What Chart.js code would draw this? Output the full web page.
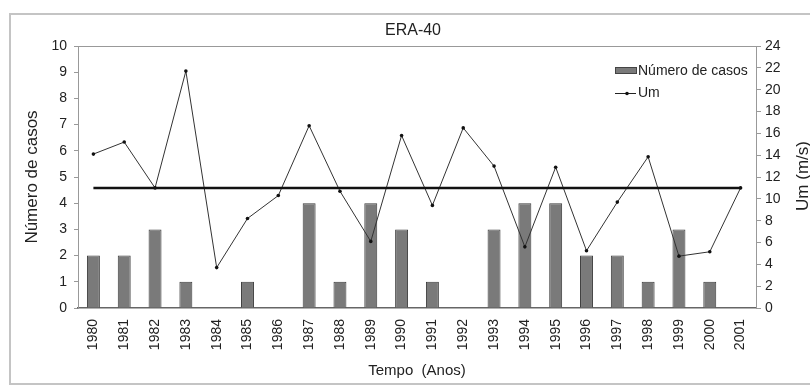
<!DOCTYPE html>
<html>
<head>
<meta charset="utf-8">
<script src="https://cdn.jsdelivr.net/npm/chart.js@4.4.0/dist/chart.umd.min.js"></script>
<style>
  body { margin: 0; background: #fff; }
  #wrap { position: relative; width: 810px; height: 385px; }
  #frame { position: absolute; left: 9px; top: 13px; width: 820px; height: 368px;
           border: 2px solid #c4c4c4; pointer-events: none; }
</style>
</head>
<body>
<div id="wrap">
  <canvas id="eraChart" width="810" height="385"></canvas>
  <div id="frame"></div>
</div>
<script>
const years = ["1980", "1981", "1982", "1983", "1984", "1985", "1986", "1987", "1988", "1989", "1990",
               "1991", "1992", "1993", "1994", "1995", "1996", "1997", "1998", "1999", "2000", "2001"];
const numeroCasos = [2, 2, 3, 1, 0, 1, 0, 4, 1, 4, 3, 1, 0, 3, 4, 4, 2, 2, 1, 3, 1, 0];
const umValues = [14.1, 15.2, 11.0, 21.7, 3.7, 8.2, 10.3, 16.7, 10.7, 6.1, 15.8,
                  9.4, 16.5, 13.0, 5.6, 12.9, 5.25, 9.7, 13.85, 4.75, 5.15, 11.0];
const umMean = 11.0;

const leftTicks = { min: 0, max: 10, step: 1 };
const rightTicks = { min: 0, max: 24, step: 2 };

const FONT = "'Liberation Sans', Arial, sans-serif";

// titles, legend and top border of the plot
const decorations = {
    id: 'decorations',
    afterDraw(chart) {
        const ctx = chart.ctx;
        const area = chart.chartArea;
        ctx.save();

        ctx.strokeStyle = '#999';
        ctx.lineWidth = 1;
        ctx.beginPath();
        ctx.moveTo(area.left, area.top + 0.5);
        ctx.lineTo(area.right, area.top + 0.5);
        ctx.stroke();

        ctx.fillStyle = '#222';
        ctx.textAlign = 'center';
        ctx.textBaseline = 'middle';
        ctx.font = '16px ' + FONT;
        ctx.fillText('ERA-40', 413, 31);

        ctx.font = '15px ' + FONT;
        ctx.fillText('Tempo  (Anos)', 417, 371);

        ctx.font = '17px ' + FONT;
        ctx.save();
        ctx.translate(32, 177);
        ctx.rotate(-Math.PI / 2);
        ctx.fillText('Número de casos', 0, 0);
        ctx.restore();

        ctx.save();
        ctx.translate(803, 176);
        ctx.rotate(-Math.PI / 2);
        ctx.fillText('Um (m/s)', 0, 0);
        ctx.restore();

        // legend
        ctx.fillStyle = '#7a7a7a';
        ctx.fillRect(615, 67, 22, 7);
        ctx.strokeStyle = '#444';
        ctx.strokeRect(615.5, 67.5, 21, 6);

        ctx.strokeStyle = '#222';
        ctx.beginPath();
        ctx.moveTo(615, 93.5);
        ctx.lineTo(636, 93.5);
        ctx.stroke();
        ctx.fillStyle = '#111';
        ctx.beginPath();
        ctx.arc(627, 93.5, 1.8, 0, Math.PI * 2);
        ctx.fill();

        ctx.fillStyle = '#222';
        ctx.textAlign = 'left';
        ctx.font = '14px ' + FONT;
        ctx.fillText('Número de casos', 638, 71);
        ctx.fillText('Um', 638, 93);

        ctx.restore();
    }
};

const ctx = document.getElementById('eraChart').getContext('2d');

new Chart(ctx, {
    type: 'bar',
    data: {
        labels: years,
        datasets: [
            {
                label: 'Média',
                type: 'line',
                data: years.map(() => umMean),
                yAxisID: 'yRight',
                borderColor: '#111',
                borderWidth: 2.5,
                pointRadius: 0,
                tension: 0,
                order: 1
            },
            {
                label: 'Um',
                type: 'line',
                data: umValues,
                yAxisID: 'yRight',
                borderColor: '#333',
                borderWidth: 1,
                pointRadius: 1.8,
                pointBackgroundColor: '#111',
                pointBorderWidth: 0,
                tension: 0,
                order: 2
            },
            {
                label: 'Número de casos',
                data: numeroCasos,
                yAxisID: 'yLeft',
                backgroundColor: '#7a7a7a',
                borderColor: '#3c3c3c',
                borderWidth: 1,
                barPercentage: 0.42,
                categoryPercentage: 1,
                order: 3
            }
        ]
    },
    options: {
        responsive: false,
        animation: false,
        layout: { padding: { top: 46, left: 0, right: 0, bottom: 0 } },
        plugins: {
            legend: { display: false },
            title: { display: false },
            tooltip: { enabled: false }
        },
        scales: {
            x: {
                offset: true,
                afterFit(scale) { scale.height = 77; },
                grid: { display: false, drawTicks: false },
                border: { color: '#666', width: 1.5 },
                ticks: {
                    minRotation: 90,
                    maxRotation: 90,
                    padding: 11,
                    color: '#222',
                    font: { family: FONT, size: 14 }
                }
            },
            yLeft: {
                position: 'left',
                min: leftTicks.min,
                max: leftTicks.max,
                afterFit(scale) { scale.width = 78; },
                grid: { drawOnChartArea: false, drawTicks: true, tickLength: 4, color: '#999' },
                border: { color: '#999', width: 1 },
                ticks: {
                    stepSize: leftTicks.step,
                    padding: 7,
                    color: '#222',
                    font: { family: FONT, size: 14 }
                }
            },
            yRight: {
                position: 'right',
                min: rightTicks.min,
                max: rightTicks.max,
                afterFit(scale) { scale.width = 54; },
                grid: { drawOnChartArea: false, drawTicks: true, tickLength: 5, color: '#999' },
                border: { color: '#999', width: 1 },
                ticks: {
                    stepSize: rightTicks.step,
                    padding: 4,
                    color: '#222',
                    font: { family: FONT, size: 14 }
                }
            }
        }
    },
    plugins: [decorations]
});
</script>
</body>
</html>
